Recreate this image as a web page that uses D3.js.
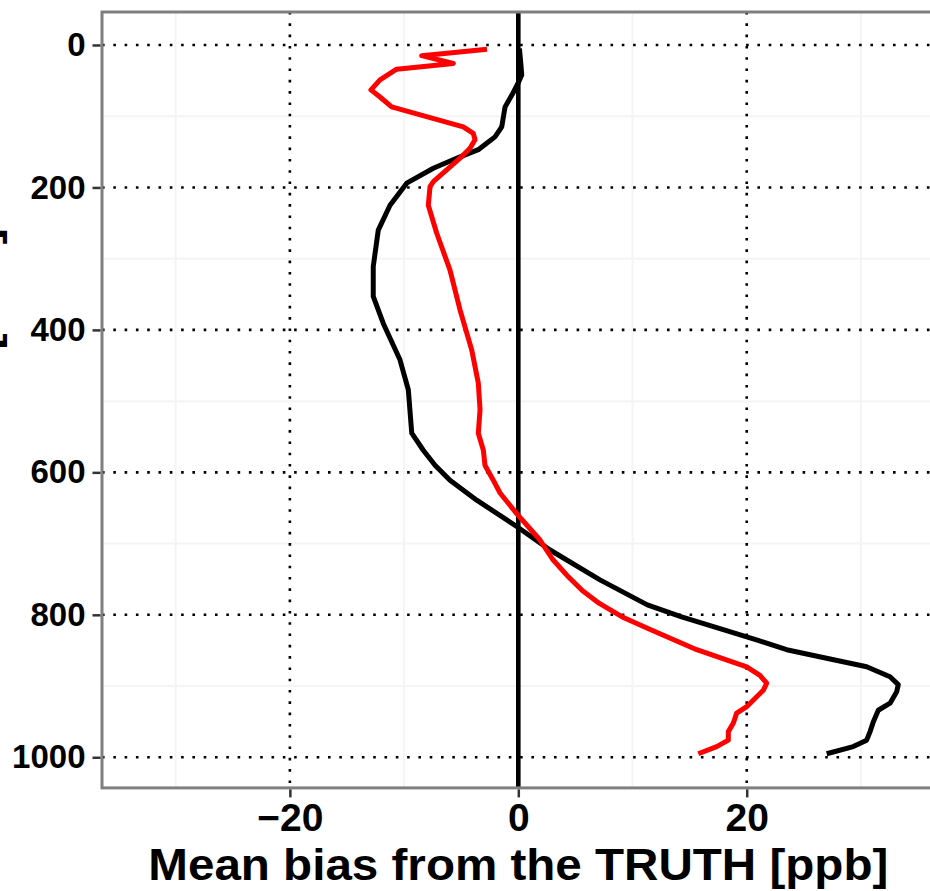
<!DOCTYPE html>
<html>
<head>
<meta charset="utf-8">
<script src="https://cdn.jsdelivr.net/npm/d3@7"></script>
<style>
    body { margin: 0; background: #fff; }
    svg { display: block; font-family: "Liberation Sans", Arial, Helvetica, sans-serif; font-weight: bold; }
</style>
</head>
<body>
<svg id="profile" width="930" height="891"></svg>
<script>
// black profile
var blackPressure = [5, 30, 42, 53, 70, 87, 115, 129, 138, 147, 157, 173, 194, 225, 260, 311, 353, 391, 442, 484, 545, 569, 590, 611, 639, 676, 709, 751, 786, 803, 820, 836, 849, 862, 873, 887, 898, 908, 924, 934, 950, 964, 976, 985, 995];
var blackBias = [0.1, 0.24, 0.3, 0.0, -0.55, -1.16, -1.45, -2.04, -2.77, -3.5, -5.1, -7.44, -9.77, -11.23, -12.26, -12.7, -12.7, -11.82, -10.36, -9.63, -9.33, -8.32, -7.29, -5.98, -3.64, -0.14, 2.78, 7.15, 11.3, 14.3, 17.8, 21.0, 23.5, 27.3, 30.5, 32.55, 33.27, 33.13, 32.55, 31.52, 31.09, 30.8, 30.5, 29.33, 27.0];

// red profile
var redPressure = [6, 15, 26, 34, 49, 63, 73, 87, 115, 124, 133, 145, 159, 192, 199, 225, 264, 316, 372, 428, 475, 512, 545, 569, 590, 611, 629, 658, 695, 722, 747, 766, 784, 803, 821, 849, 873, 885, 896, 906, 929, 938, 952, 964, 976, 985, 995];
var redBias = [-2.74, -8.46, -5.69, -10.65, -12.11, -12.9, -12.11, -11.09, -4.82, -3.94, -3.79, -4.23, -5.1, -7.44, -7.73, -7.88, -7.15, -5.98, -5.1, -4.08, -3.5, -3.35, -3.5, -3.06, -2.92, -2.19, -1.6, -0.14, 1.9, 3.0, 4.4, 5.6, 7.1, 9.1, 11.6, 15.62, 20.0, 21.16, 21.75, 21.45, 20.0, 19.12, 18.83, 18.39, 18.39, 17.37, 15.76];

var xTicks = [-20, 0, 20];
var xMinor = [-30, -10, 10, 30];
var yTicks = [0, 200, 400, 600, 800, 1000];
var yMinor = [100, 300, 500, 700, 900];

var svg = d3.select("svg#profile");
var panel = {left: 102, right: 934.6, top: 12, bottom: 787.9};

var x = d3.scaleLinear()
    .domain([-36.45, 36.45])
    .range([panel.left, panel.right]);

var y = d3.scaleLinear()
    .domain([-46.3, 1043])
    .range([panel.top, panel.bottom]);

var g = svg.append("g");

// minor grid
g.selectAll(".minor-x").data(xMinor).enter().append("line")
    .attr("x1", function(d) { return x(d); }).attr("x2", function(d) { return x(d); })
    .attr("y1", panel.top).attr("y2", panel.bottom)
    .style("stroke", "#f4f4f4").style("stroke-width", 2);
g.selectAll(".minor-y").data(yMinor).enter().append("line")
    .attr("x1", panel.left).attr("x2", panel.right)
    .attr("y1", function(d) { return y(d); }).attr("y2", function(d) { return y(d); })
    .style("stroke", "#f4f4f4").style("stroke-width", 2);

// dotted major grid
g.selectAll(".major-x").data(xTicks).enter().append("line")
    .attr("x1", function(d) { return x(d); }).attr("x2", function(d) { return x(d); })
    .attr("y1", panel.top).attr("y2", panel.bottom)
    .style("stroke", "#000").style("stroke-width", 2.6)
    .style("stroke-dasharray", "2.6,8.7");
g.selectAll(".major-y").data(yTicks).enter().append("line")
    .attr("x1", panel.left).attr("x2", panel.right)
    .attr("y1", function(d) { return y(d); }).attr("y2", function(d) { return y(d); })
    .style("stroke", "#000").style("stroke-width", 2.6)
    .style("stroke-dasharray", "2.6,8.7");

// zero line
g.append("line")
    .attr("x1", x(0)).attr("x2", x(0))
    .attr("y1", panel.top).attr("y2", panel.bottom)
    .style("stroke", "#000").style("stroke-width", 4.6);

var line = d3.line()
    .x(function(d) { return x(d[1]); })
    .y(function(d) { return y(d[0]); });

g.append("path")
    .datum(d3.zip(blackPressure, blackBias))
    .attr("d", line)
    .style("fill", "none").style("stroke", "#000").style("stroke-width", 5)
    .style("stroke-linejoin", "round");

g.append("path")
    .datum(d3.zip(redPressure, redBias))
    .attr("d", line)
    .style("fill", "none").style("stroke", "#ff0000").style("stroke-width", 5)
    .style("stroke-linejoin", "round");

// panel border
svg.append("rect")
    .attr("x", panel.left).attr("y", panel.top)
    .attr("width", panel.right - panel.left).attr("height", panel.bottom - panel.top)
    .style("fill", "none").style("stroke", "#7f7f7f").style("stroke-width", 3);

// axes
var yAxis = svg.append("g")
    .attr("transform", "translate(" + (panel.left - 1.5) + ",0)")
    .call(d3.axisLeft(y).tickValues(yTicks).tickSize(8).tickPadding(7).tickFormat(d3.format("d")));
var xAxis = svg.append("g")
    .attr("transform", "translate(0," + (panel.bottom + 1.5) + ")")
    .call(d3.axisBottom(x).tickValues(xTicks).tickSize(8).tickPadding(6)
        .tickFormat(function(d) { return d < 0 ? "\u2212" + Math.abs(d) : d; }));

svg.selectAll(".domain").remove();
svg.selectAll(".tick line").style("stroke", "#333").style("stroke-width", 2.5);
yAxis.selectAll("text").style("font-size", "33px").style("fill", "#000")
    .style("font-family", "'Liberation Sans', Arial, sans-serif").style("font-weight", "bold");
xAxis.selectAll("text").style("font-size", "39px").style("fill", "#000")
    .style("font-family", "'Liberation Sans', Arial, sans-serif").style("font-weight", "bold");

// axis titles
svg.append("text")
    .attr("x", x(0)).attr("y", 880)
    .attr("text-anchor", "middle")
    .attr("textLength", 740).attr("lengthAdjust", "spacingAndGlyphs")
    .style("font-size", "45px")
    .text("Mean bias from the TRUTH [ppb]");

svg.append("text")
    .attr("transform", "translate(-2.5," + ((panel.top + panel.bottom) / 2) + ") rotate(-90)")
    .attr("text-anchor", "middle")
    .attr("textLength", 344).attr("lengthAdjust", "spacingAndGlyphs")
    .style("font-size", "45px")
    .text("Pressure [hPa]");
</script>
</body>
</html>
